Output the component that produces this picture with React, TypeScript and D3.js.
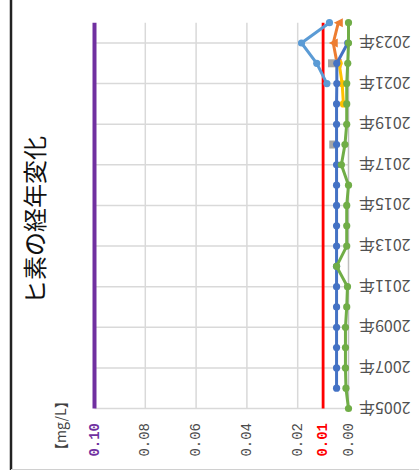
import React from "react";
import * as d3 from "d3";

const years = ["2005","2006","2007","2008","2009","2010","2011","2012","2013","2014","2015","2016","2017","2018","2019","2020","2021","2022","2023","2024"];
const yearLabels = ["2005","2007","2009","2011","2013","2015","2017","2019","2021","2023"];
const valueTicks = [0, 0.02, 0.04, 0.06, 0.08, 0.1];
const standardLine = 0.01;
const limitLine = 0.1;

type V = number | null;
const seriesLightBlue: V[] = [null,null,null,null,null,null,null,null,null,null,null,null,null,null,null,null,0.0085,0.0125,0.0185,0.0075];
const seriesOrange: V[] = [null,null,null,null,null,null,null,null,null,null,null,null,null,null,null,null,null,0.0045,0.006,0.004];
const seriesGrey: V[] = [null,null,null,null,null,null,null,null,null,null,null,null,null,0.006,null,null,null,0.0065,null,null];
const seriesYellow: V[] = [null,null,null,null,null,null,null,null,null,null,null,null,null,null,null,0.002,0.0025,0.0037,null,null];
const seriesDarkBlue: V[] = [null,0.0047,0.0047,0.0047,0.0047,0.0047,0.0047,0.0047,0.0047,0.0047,0.0047,0.0047,0.0047,0.0047,0.0047,0.0047,0.0046,0.0046,0.0003,null];
const seriesGreen: V[] = [0.0,0.001,0.0012,0.0012,0.0012,0.0007,0.0004,0.0047,0.0007,0.0007,0.0007,0.0,0.0028,0.0014,0.0007,0.0007,0.0007,0.0003,0.0,0.0];

const W = 419, H = 472;

export default function App() {
  const yPos = d3.scalePoint<string>().domain(years).range([408.5, 22.7]);
  const xVal = d3.scaleLinear().domain([0, 0.1]).range([348.5, 94.5]);
  const top = yPos(years[years.length - 1])!;
  const bottom = yPos(years[0])!;

  const series = [
    { data: seriesLightBlue, color: "#5B9BD5", marker: "circle" },
    { data: seriesOrange, color: "#ED7D31", marker: "triangle" },
    { data: seriesGrey, color: "#A5A5A5", marker: "square" },
    { data: seriesYellow, color: "#FFC000", marker: "circle" },
    { data: seriesDarkBlue, color: "#4472C4", marker: "circle" },
    { data: seriesGreen, color: "#70AD47", marker: "circle" },
  ];

  const line = d3.line<[string, V]>()
    .defined(d => d[1] != null)
    .x(d => xVal(d[1] as number))
    .y(d => yPos(d[0])!);

  const fmt = d3.format(".2f");

  return (
    <svg width={W} height={H} style={{ position: "absolute", left: 0, top: 0, background: "#fff" }}>
      <rect x={0} y={0} width={W} height={H} fill="#fff" />
      {/* frame */}
      <line x1={11} x2={11} y1={0} y2={470} stroke="#222" strokeWidth={2.5} />
      <line x1={11} x2={W} y1={469.5} y2={469.5} stroke="#d0d0d0" strokeWidth={1} />

      {/* title */}
      <text transform={`translate(33,${220}) rotate(-90)`} textAnchor="middle" dominantBaseline="central"
        fontFamily="'Noto Sans CJK JP'" fontSize={24} fill="#111">ヒ素の経年変化</text>

      {/* unit */}
      <text transform={`translate(60,457) rotate(-90)`} textAnchor="start" dominantBaseline="central"
        fontFamily="'Noto Sans CJK JP'" fontSize={14} fill="#404040">【mg/L】</text>

      {/* vertical gridlines */}
      {valueTicks.filter(v => v > 0 && v < 0.1).map(v => (
        <line key={"vg" + v} x1={xVal(v)} x2={xVal(v)} y1={top} y2={bottom} stroke="#d9d9d9" strokeWidth={1.5} />
      ))}
      {/* horizontal gridlines */}
      {yearLabels.map(y => (
        <line key={"hg" + y} x1={xVal(0.1)} x2={xVal(0)} y1={yPos(y)} y2={yPos(y)} stroke="#d9d9d9" strokeWidth={1.5} />
      ))}
      {/* zero axis */}
      <line x1={xVal(0)} x2={xVal(0)} y1={top} y2={bottom} stroke="#bfbfbf" strokeWidth={1.5} />

      {/* limit lines */}
      <line x1={xVal(limitLine)} x2={xVal(limitLine)} y1={top} y2={bottom} stroke="#7030A0" strokeWidth={4} />
      <line x1={xVal(standardLine)} x2={xVal(standardLine)} y1={top} y2={bottom} stroke="#FF0000" strokeWidth={2.8} />

      {/* series */}
      {series.map((s, i) => {
        const pts: [string, V][] = years.map((y, j) => [y, s.data[j]]);
        return (
          <g key={"s" + i}>
            <path d={line(pts) || ""} fill="none" stroke={s.color} strokeWidth={3} strokeLinejoin="round" />
            {pts.filter(p => p[1] != null).map(p => {
              const cx = xVal(p[1] as number), cy = yPos(p[0])!;
              if (s.marker === "square")
                return <rect key={p[0]} x={cx - 4} y={cy - 4} width={8} height={8} fill={s.color} />;
              if (s.marker === "triangle")
                return <path key={p[0]} d={`M${cx + 4.5},${cy - 4.5} L${cx + 4.5},${cy + 4.5} L${cx - 4.5},${cy} Z`} fill={s.color} />;
              return <circle key={p[0]} cx={cx} cy={cy} r={3.6} fill={s.color} />;
            })}
          </g>
        );
      })}

      {/* year labels (upside down) */}
      {yearLabels.map(y => (
        <text key={"yl" + y} transform={`translate(359,${yPos(y)}) rotate(180)`} textAnchor="end" dominantBaseline="central"
          fontFamily="'Noto Sans CJK JP'" fontSize={16} fill="#505050">{y}年</text>
      ))}

      {/* value tick labels */}
      {valueTicks.concat([standardLine]).map(v => {
        const special = v === limitLine ? "#7030A0" : v === standardLine ? "#FF0000" : null;
        return (
          <text key={"vl" + v} transform={`translate(${xVal(v)},423) rotate(-90)`} textAnchor="end" dominantBaseline="central"
            fontFamily="'Liberation Mono'" fontSize={14} fontWeight={special ? "bold" : "normal"}
            fill={special || "#4a4a4a"}>{fmt(v)}</text>
        );
      })}
    </svg>
  );
}
